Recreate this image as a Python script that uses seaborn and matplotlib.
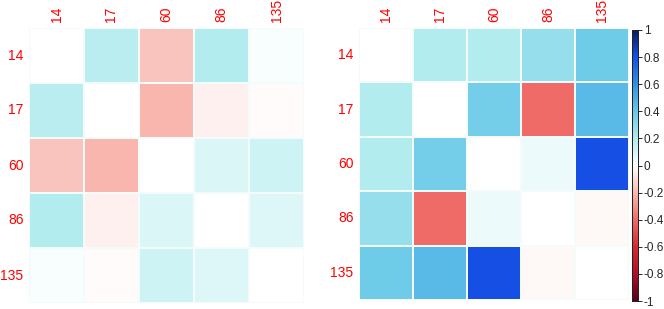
import numpy as np
import matplotlib
matplotlib.use("Agg")
import matplotlib.pyplot as plt
import seaborn as sns
from matplotlib.colors import LinearSegmentedColormap

# Variables (same for both panels)
labels = ["14", "17", "60", "86", "135"]

# Left panel correlations (diagonal not drawn)
left_vals = [
    [1.00, 0.18, -0.17, 0.20, 0.02],
    [0.18, 1.00, -0.21, -0.04, -0.01],
    [-0.17, -0.21, 1.00, 0.10, 0.13],
    [0.20, -0.04, 0.10, 1.00, 0.09],
    [0.02, -0.01, 0.13, 0.09, 1.00],
]

# Right panel correlations
right_vals = [
    [1.00, 0.20, 0.20, 0.28, 0.38],
    [0.20, 1.00, 0.36, -0.40, 0.45],
    [0.20, 0.36, 1.00, 0.05, 0.80],
    [0.28, -0.40, 0.05, 1.00, -0.02],
    [0.38, 0.45, 0.80, -0.02, 1.00],
]

cbar_ticks = [-1, -0.8, -0.6, -0.4, -0.2, 0, 0.2, 0.4, 0.6, 0.8, 1]

sns.set_style("white")
plt.rcParams["font.family"] = ["Liberation Sans", "DejaVu Sans"]
plt.rcParams["axes.unicode_minus"] = False

cmap = LinearSegmentedColormap.from_list("corr", [
    (0.0, "#5c0018"), (0.1, "#b0102a"), (0.2, "#d42b32"), (0.3, "#ef6c68"),
    (0.4, "#f9b9b2"), (0.5, "#ffffff"), (0.6, "#b3ecef"), (0.7, "#68c8e8"),
    (0.8, "#3390e4"), (0.9, "#1650e6"), (1.0, "#0a1a60"),
])

W, H = 664, 309
fig = plt.figure(figsize=(W / 100, H / 100), dpi=100)

def box(x0, y0, x1, y1):
    return [x0 / W, 1 - y1 / H, (x1 - x0) / W, (y1 - y0) / H]

ax1 = fig.add_axes(box(29, 28, 304, 303))
ax2 = fig.add_axes(box(359, 28, 629, 300))
cax = fig.add_axes(box(632, 30, 638, 301))

mask = np.eye(len(labels), dtype=bool)

sns.heatmap(np.array(left_vals), mask=mask, cmap=cmap, vmin=-1, vmax=1,
            cbar=False, ax=ax1, linewidths=0.3, linecolor="#f4fbfb",
            xticklabels=labels, yticklabels=labels)
sns.heatmap(np.array(right_vals), mask=mask, cmap=cmap, vmin=-1, vmax=1,
            cbar_ax=cax, ax=ax2, linewidths=0.3, linecolor="#f4fbfb",
            xticklabels=labels, yticklabels=labels,
            cbar_kws={"ticks": cbar_ticks})

for ax in (ax1, ax2):
    ax.xaxis.tick_top()
    ax.tick_params(length=0, labelsize=10, labelcolor="red", pad=4)
    plt.setp(ax.get_xticklabels(), rotation=90)
    plt.setp(ax.get_yticklabels(), rotation=0)

cax.set_yticklabels([f"{t:g}" for t in cbar_ticks])
cax.tick_params(length=3, width=0.7, labelsize=8.5, pad=1)
for s in cax.spines.values():
    s.set_visible(True)
    s.set_linewidth(0.7)
    s.set_color("#222222")

fig.savefig("out.png", dpi=100)
